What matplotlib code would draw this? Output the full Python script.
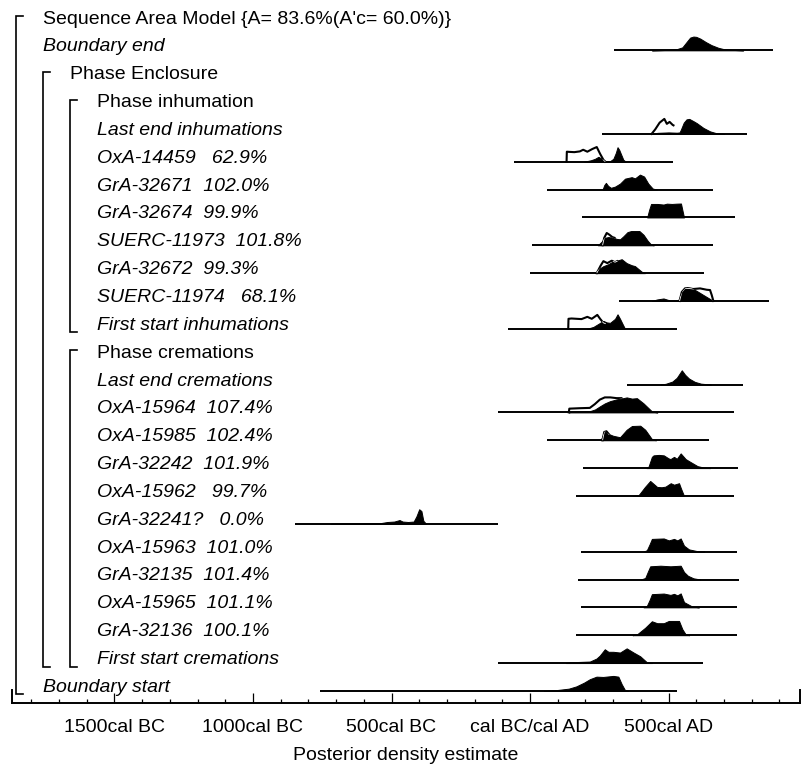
import matplotlib
matplotlib.use("Agg")
import matplotlib.pyplot as plt

plt.rcParams['font.family'] = ['Liberation Sans', 'DejaVu Sans']

# ---------------- data ----------------
labels = [
    "Sequence Area Model {A= 83.6%(A'c= 60.0%)}",
    "Boundary end",
    "Phase Enclosure",
    "Phase inhumation",
    "Last end inhumations",
    "OxA-14459   62.9%",
    "GrA-32671  102.0%",
    "GrA-32674  99.9%",
    "SUERC-11973  101.8%",
    "GrA-32672  99.3%",
    "SUERC-11974   68.1%",
    "First start inhumations",
    "Phase cremations",
    "Last end cremations",
    "OxA-15964  107.4%",
    "OxA-15985  102.4%",
    "GrA-32242  101.9%",
    "OxA-15962   99.7%",
    "GrA-32241?   0.0%",
    "OxA-15963  101.0%",
    "GrA-32135  101.4%",
    "OxA-15965  101.1%",
    "GrA-32136  100.1%",
    "First start cremations",
    "Boundary start",
]
is_italic = [False, True, False, False, True, True, True, True, True, True, True, True,
             False, True, True, True, True, True, True, True, True, True, True, True, True]
depth = [0, 0, 1, 2, 2, 2, 2, 2, 2, 2, 2, 2, 2, 2, 2, 2, 2, 2, 2, 2, 2, 2, 2, 2, 0]

# baseline ranges (cal years, BC negative) per row
ranges = {
    1: (304, 878), 4: (259, 782), 5: (-58, 515), 6: (60, 662), 7: (187, 740),
    8: (6, 662), 9: (0, 628), 10: (323, 864), 11: (-78, 530),
    13: (349, 769), 14: (-115, 735), 15: (60, 647), 16: (191, 751), 17: (165, 738),
    18: (-848, -115), 19: (185, 747), 20: (173, 753), 21: (185, 747), 22: (165, 747),
    23: (-115, 623), 24: (-759, 532),
}

# posterior (filled) distributions: (year, relative density)
post_boundary_end = [(440,0),(500,0.03),(530,0.08),(550,0.2),(565,0.55),(578,0.85),(590,0.92),(600,0.9),(615,0.78),(635,0.55),(655,0.35),(680,0.17),(700,0.08),(730,0.03),(770,0)]
post_last_inh = [(440,0),(460,0.07),(500,0.1),(530,0.08),(540,0.1),(545,0.3),(555,0.75),(565,0.97),(575,1.0),(590,0.85),(602,0.72),(626,0.4),(650,0.17),(674,0.04),(700,0)]
post_oxa14459 = [(195,0),(220,0.1),(235,0.2),(247,0.33),(259,0.2),(275,0.03),(290,0.05),(301,0.2),(310,0.6),(316,0.97),(322,0.8),(328,0.53),(337,0.13),(346,0)]
post_gra32671 = [(262,0),(268,0.3),(274,0.45),(282,0.25),(292,0.12),(307,0.2),(325,0.4),(343,0.73),(367,0.83),(379,0.75),(397,1.0),(412,0.87),(427,0.4),(443,0.07),(458,0)]
post_gra32674 = [(423,0),(430,0.5),(437,0.9),(460,0.9),(482,0.86),(494,0.92),(512,0.9),(530,0.92),(545,0.93),(550,0.5),(556,0)]
post_suerc11973 = [(245,0),(259,0.25),(270,0.5),(283,0.55),(300,0.5),(315,0.42),(325,0.4),(337,0.6),(352,0.88),(365,0.95),(395,0.95),(410,0.7),(425,0.3),(437,0.05),(447,0)]
post_gra32672 = [(235,0),(253,0.33),(265,0.47),(283,0.6),(301,0.8),(313,0.83),(331,0.93),(349,0.67),(367,0.53),(379,0.47),(388,0.33),(403,0.1),(415,0)]
post_suerc11974 = [(440,0),(458,0.1),(482,0.17),(494,0.1),(506,0.03),(535,0.05),(545,0.4),(551,0.67),(565,0.93),(583,0.87),(602,0.67),(626,0.4),(644,0.2),(662,0)]
post_first_inh = [(205,0),(229,0.13),(253,0.4),(265,0.53),(277,0.43),(289,0.4),(307,0.67),(316,0.97),(325,0.67),(334,0.33),(343,0)]
post_last_crem = [(470,0),(490,0.05),(514,0.2),(530,0.45),(548,0.95),(560,0.65),(574,0.4),(595,0.18),(617,0.06),(653,0)]
post_oxa15964 = [(140,0),(150,0.05),(216,0.08),(235,0.2),(252,0.4),(270,0.6),(289,0.75),(313,0.87),(337,0.95),(349,1.0),(368,0.92),(386,0.95),(410,0.6),(441,0.05),(460,0)]
post_oxa15985 = [(255,0),(262,0.3),(270,0.6),(280,0.45),(300,0.3),(325,0.2),(349,0.7),(368,0.95),(398,0.97),(416,0.7),(441,0.05),(455,0)]
post_gra32242 = [(420,0),(428,0.1),(440,0.75),(446,0.85),(465,0.88),(483,0.85),(500,0.65),(507,0.6),(520,0.75),(530,0.62),(544,0.98),(562,0.6),(580,0.4),(605,0.13),(629,0.03),(650,0)]
post_oxa15962 = [(370,0),(392,0.05),(415,0.6),(434,1.0),(459,0.6),(475,0.58),(489,0.62),(508,0.85),(520,0.75),(538,0.85),(545,0.5),(556,0)]
post_gra32241 = [(-720,0),(-700,0.02),(-600,0.03),(-538,0.05),(-515,0.12),(-490,0.15),(-471,0.25),(-460,0.15),(-440,0.12),(-420,0.15),(-410,0.5),(-400,0.97),(-392,0.85),(-385,0.2),(-375,0)]
post_oxa15963 = [(410,0),(422,0.1),(432,0.5),(440,0.85),(483,0.88),(501,0.75),(520,0.85),(532,0.75),(544,0.88),(556,0.4),(574,0.15),(605,0.03),(630,0)]
post_gra32135 = [(400,0),(416,0.1),(425,0.5),(434,0.88),(471,0.92),(507,0.88),(544,0.92),(556,0.5),(570,0.25),(590,0.08),(615,0)]
post_oxa15965 = [(410,0),(422,0.1),(432,0.5),(440,0.88),(483,0.92),(507,0.83),(520,0.9),(532,0.8),(544,0.93),(556,0.35),(586,0.05),(610,0)]
post_gra32136 = [(370,0),(386,0.05),(416,0.5),(440,0.93),(459,0.8),(483,0.8),(501,0.95),(538,0.95),(550,0.4),(562,0.05),(575,0)]
post_first_crem = [(130,0),(143,0.05),(216,0.1),(240,0.3),(252,0.5),(270,0.92),(283,0.75),(301,0.75),(325,0.7),(349,0.98),(374,0.7),(398,0.45),(422,0.05),(440,0)]
post_boundary_start = [(50,0),(94,0.05),(140,0.15),(167,0.3),(195,0.55),(216,0.78),(240,0.95),(264,0.93),(301,1.0),(319,0.95),(331,0.45),(343,0.05),(355,0)]

# prior / likelihood (outline) distributions
prior_last_inh = [(439,0),(452,0.3),(468,0.75),(485,1.0),(494,0.67),(504,0.8),(515,0.6),(518,0.57)]
prior_oxa14459 = [(132,0),(133,0.67),(140,0.66),(160,0.64),(180,0.69),(192,0.8),(207,0.67),(225,0.85),(241,0.98),(253,0.53),(265,0.13),(271,0)]
prior_suerc11973 = [(262,0),(268,0.5),(277,0.82),(287,0.7),(297,0.55),(305,0.5)]
prior_gra32672 = [(241,0),(255,0.5),(265,0.8),(279,0.67),(295,0.83),(307,0.73),(315,0.8)]
prior_suerc11974 = [(540,0),(548,0.6),(560,0.85),(575,0.83),(590,0.8),(602,0.82),(614,0.84),(638,0.75),(650,0.73),(656,0.4),(662,0)]
prior_first_inh = [(138,0),(139,0.67),(150,0.69),(186,0.65),(207,0.8),(223,0.67),(243,0.93),(253,0.67),(265,0.4),(272,0.35)]
prior_oxa15964 = [(140,0),(142,0.25),(180,0.28),(216,0.3),(234,0.55),(252,0.85),(270,1.0),(290,1.0),(313,0.95),(330,0.95)]
prior_oxa15985 = [(262,0),(268,0.55),(276,0.6),(285,0.4)]

posteriors = {1: post_boundary_end, 4: post_last_inh, 5: post_oxa14459, 6: post_gra32671,
              7: post_gra32674, 8: post_suerc11973, 9: post_gra32672, 10: post_suerc11974,
              11: post_first_inh, 13: post_last_crem, 14: post_oxa15964, 15: post_oxa15985,
              16: post_gra32242, 17: post_oxa15962, 18: post_gra32241, 19: post_oxa15963,
              20: post_gra32135, 21: post_oxa15965, 22: post_gra32136, 23: post_first_crem,
              24: post_boundary_start}
priors = {4: prior_last_inh, 5: prior_oxa14459, 8: prior_suerc11973, 9: prior_gra32672,
          10: prior_suerc11974, 11: prior_first_inh, 14: prior_oxa15964, 15: prior_oxa15985}

# brackets: (x level, first row, last row)
brackets = [(0, 0, 24), (1, 2, 23), (2, 3, 11), (2, 12, 23)]

tick_years = [-1500, -1000, -500, 0, 500]
tick_labels = ["1500cal BC", "1000cal BC", "500cal BC", "cal BC/cal AD", "500cal AD"]
xlabel = "Posterior density estimate"

# ---------------- layout ----------------
W, H = 807, 768
X0_PX, PX_PER_YR = 530.0, 0.277
ROW0_PX, ROW_PX = 17.0, 27.85
def px2yr(px):
    return (px - X0_PX) / PX_PER_YR
def px2row(py):
    return (py - ROW0_PX) / ROW_PX

fig = plt.figure(figsize=(W / 100, H / 100), dpi=100)
ax = fig.add_axes([0, 0, 1, 1])
ax.set_xlim(px2yr(0), px2yr(W))
ax.set_ylim(px2row(H), px2row(0))
ax.axis('off')

unit = 15.0 / ROW_PX          # full density height
base_off = 5.5 / ROW_PX       # baseline offset below row centre
text_off = 6.5 / ROW_PX
fs = 14.0
bracket_x = [16, 43, 70]
text_x = [43, 70, 97]
ytr = ax.get_yaxis_transform()

for i, lab in enumerate(labels):
    ax.text(text_x[depth[i]] / W, i + text_off, lab, transform=ytr, fontsize=fs,
            style='italic' if is_italic[i] else 'normal', va='baseline', ha='left', color='black')

for lvl, r0, r1 in brackets:
    xb = bracket_x[lvl] / W
    yt = r0 - 1.0 / ROW_PX
    yb = r1 + 9.0 / ROW_PX
    ax.plot([xb + 7.0 / W, xb, xb, xb + 7.0 / W], [yt, yt, yb, yb], color='black', lw=1.2,
            transform=ytr, solid_joinstyle='miter')

for row, (lo, hi) in ranges.items():
    b = row + base_off
    ax.plot([lo, hi], [b, b], color='black', lw=1.4, solid_capstyle='butt')

for row, pts in priors.items():
    b = row + base_off
    ax.plot([p[0] for p in pts], [b - p[1] * unit for p in pts], color='black', lw=1.5)

for row, pts in posteriors.items():
    b = row + base_off
    xs = [p[0] for p in pts]
    ys = [b - p[1] * unit for p in pts]
    coll = ax.fill_between(xs, b, ys, color='black', lw=0.7, edgecolor='black')
    if row in priors:
        pp = priors[row]
        ln, = ax.plot([p[0] for p in pp], [b - p[1] * unit for p in pp], color='white', lw=0.6)
        ln.set_clip_path(coll.get_paths()[0], ax.transData)

# time axis
axl, axr, axy = 12, 800, 703
tax = fig.add_axes([axl / W, (H - axy) / H, (axr - axl) / W, 13 / H])
tax.set_xlim(px2yr(axl), px2yr(axr))
tax.set_ylim(0, 1)
tax.patch.set_visible(False)
tax.spines['top'].set_visible(False)
for s in ['bottom', 'left', 'right']:
    tax.spines[s].set_linewidth(1.4)
tax.set_yticks([])
tax.set_xticks(tick_years)
tax.set_xticklabels(tick_labels, fontsize=fs)
tax.set_xticks(list(range(-1800, 1000, 100)), minor=True)
tax.tick_params(axis='x', which='major', direction='in', length=7.5, width=0.9, pad=11.5)
tax.tick_params(axis='x', which='minor', direction='in', length=2.8, width=0.9)
fig.text((axl + axr) / 2 / W, 1 - 756 / H, xlabel, ha='center', va='center', fontsize=fs)

fig.savefig("out.png", dpi=100)
